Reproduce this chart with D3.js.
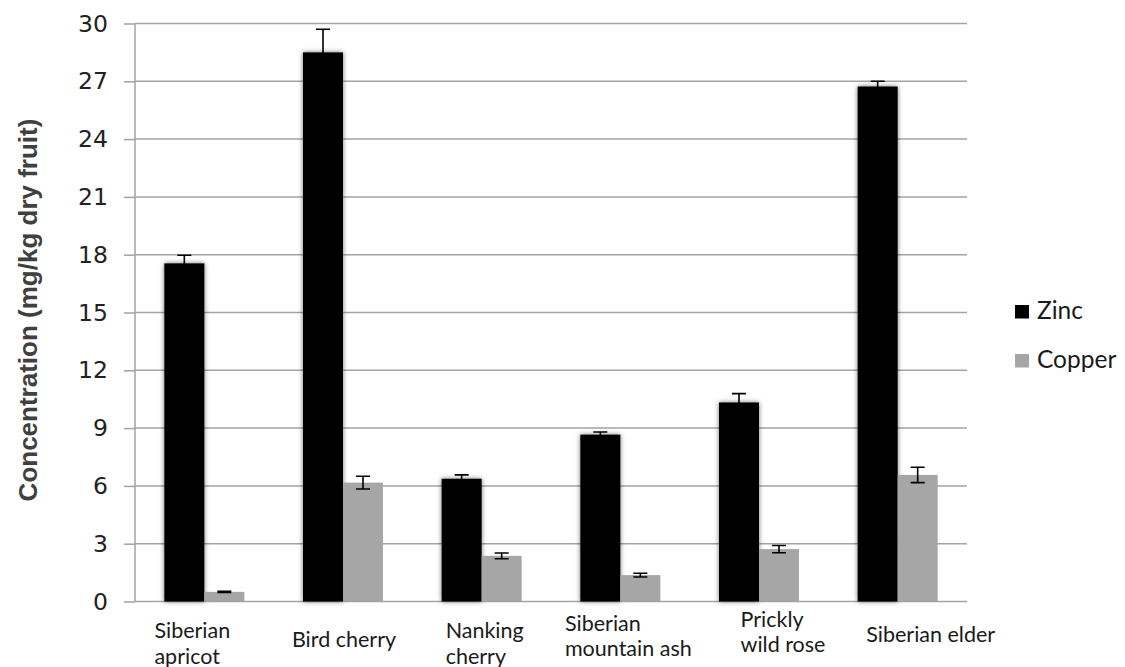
<!DOCTYPE html>
<html>
<head>
<meta charset="utf-8">
<script src="https://cdn.jsdelivr.net/npm/d3@7"></script>
<style>
  html, body { margin: 0; padding: 0; background: #fff; }
  svg { display: block; }
</style>
</head>
<body>
<svg id="chart" width="1125" height="667"></svg>
<script>
// Fruit species on the x axis, with how each name wraps onto lines
const categories = ["Siberian apricot", "Bird cherry", "Nanking cherry", "Siberian mountain ash", "Prickly wild rose", "Siberian elder"];
const categoryLines = [["Siberian", "apricot"], ["Bird cherry"], ["Nanking", "cherry"], ["Siberian", "mountain ash"], ["Prickly", "wild rose"], ["Siberian elder"]];

// Mean concentrations (mg/kg dry fruit) and their error margins
const series = ["Zinc", "Copper"];
const zincValues = [17.55, 28.5, 6.37, 8.66, 10.33, 26.73];
const zincErrors = [0.42, 1.2, 0.2, 0.14, 0.46, 0.27];
const copperValues = [0.5, 6.17, 2.37, 1.37, 2.72, 6.57];
const copperErrors = [0.03, 0.33, 0.15, 0.1, 0.19, 0.4];

const yTicks = [0, 3, 6, 9, 12, 15, 18, 21, 24, 27, 30];
const yTitle = "Concentration (mg/kg dry fruit)";

// Layout
const plot = { left: 135, right: 967, top: 23.5, bottom: 601.5 };
const labelShift = [-12, 1, 3, 8, 24, 33];          // horizontal nudge of each category label block
const labelBaseline = [638, 646.7, 638, 630.7, 626.7, 641.7];
const lineGap = 25.5;
const colors = { Zinc: "#000000", Copper: "#a6a6a6" };
const gridColor = "#a3a3a3";

const svg = d3.select("#chart");

const defs = svg.append("defs");
const shadow = defs.append("filter").attr("id", "barShadow")
  .attr("x", "-30%").attr("y", "-5%").attr("width", "160%").attr("height", "110%");
shadow.append("feDropShadow").attr("dx", 0).attr("dy", 0)
  .attr("stdDeviation", 2.6).attr("flood-color", "#000").attr("flood-opacity", 0.55);

const x = d3.scaleBand().domain(categories)
  .range([plot.left, plot.right])
  .paddingInner(0.423).paddingOuter(0.2115);
const xs = d3.scaleBand().domain(series).range([0, x.bandwidth()]);
const y = d3.scaleLinear().domain([0, 30]).range([plot.bottom, plot.top]);

// Horizontal gridlines with the y axis tick marks
const yAxis = d3.axisLeft(y).tickValues(yTicks).tickSize(11).tickPadding(16).tickFormat(d3.format("d"));
const gy = svg.append("g").attr("transform", `translate(${plot.left},0)`).call(yAxis);
gy.select(".domain").attr("stroke", gridColor).attr("stroke-width", 1.5).attr("d", `M0,${plot.top}V${plot.bottom}`);
gy.selectAll(".tick line").attr("stroke", gridColor).attr("stroke-width", 1.5);
gy.selectAll(".tick text")
  .attr("fill", "#222").style("font-family", "'DejaVu Sans', Verdana, sans-serif").style("font-size", "23.5px");

svg.append("g").selectAll("line").data(yTicks).join("line")
  .attr("x1", plot.left).attr("x2", plot.right)
  .attr("y1", d => y(d)).attr("y2", d => y(d))
  .attr("stroke", gridColor).attr("stroke-width", 1.5);

// Bars
const rows = categories.map((c, i) => ({
  cat: c,
  vals: [
    { s: "Zinc", v: zincValues[i], e: zincErrors[i] },
    { s: "Copper", v: copperValues[i], e: copperErrors[i] }
  ]
}));

const groups = svg.append("g").selectAll("g").data(rows).join("g")
  .attr("transform", d => `translate(${x(d.cat)},0)`);

groups.selectAll("rect").data(d => d.vals).join("rect")
  .attr("x", d => xs(d.s))
  .attr("y", d => y(d.v))
  .attr("width", xs.bandwidth())
  .attr("height", d => y(0) - y(d.v))
  .attr("fill", d => colors[d.s])
  .attr("filter", d => d.s === "Zinc" ? "url(#barShadow)" : null);

// Error bars
const cap = 7;
const eb = groups.selectAll("g.err").data(d => d.vals).join("g").attr("class", "err")
  .attr("transform", d => `translate(${xs(d.s) + xs.bandwidth() / 2},0)`);
eb.append("path")
  .attr("d", d => {
    const t = y(d.v + d.e), b = y(d.v - d.e);
    return `M0,${t}V${b}M${-cap},${t}H${cap}M${-cap},${b}H${cap}`;
  })
  .attr("stroke", "#000").attr("stroke-width", 1.6).attr("fill", "none");

// Category labels
const labelFont = "Lato, 'Open Sans', sans-serif";
categoryLines.forEach((lines, i) => {
  const g = svg.append("g");
  const texts = lines.map((ln, k) => g.append("text")
    .attr("y", labelBaseline[i] + k * lineGap)
    .attr("fill", "#1a1a1a")
    .style("font-family", labelFont).style("font-size", "21.5px")
    .text(ln));
  const w = d3.max(texts, t => t.node().getComputedTextLength());
  const left = x(categories[i]) + x.bandwidth() / 2 + labelShift[i] - w / 2;
  texts.forEach(t => t.attr("x", left));
});

// Y axis title
svg.append("text")
  .attr("transform", `translate(37,310) rotate(-90)`)
  .attr("text-anchor", "middle")
  .attr("fill", "#404040")
  .style("font-family", "'Liberation Sans', Arial, sans-serif")
  .style("font-weight", "bold").style("font-size", "26px")
  .text(yTitle);

// Legend
const legend = svg.append("g").selectAll("g").data(series).join("g")
  .attr("transform", (d, i) => `translate(1015,${305 + i * 49})`);
legend.append("rect").attr("width", 14).attr("height", 13.5).attr("fill", d => colors[d]);
legend.append("text").attr("x", 22).attr("y", 14)
  .attr("fill", "#1a1a1a")
  .style("font-family", labelFont).style("font-size", "24.5px")
  .text(d => d);
</script>
</body>
</html>
